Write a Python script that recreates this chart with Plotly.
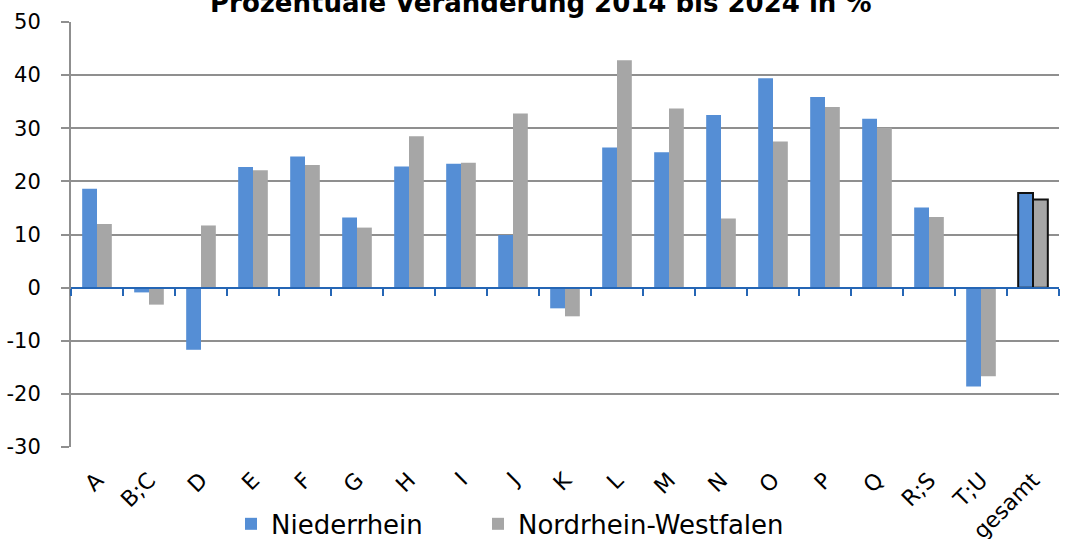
import plotly.graph_objects as go

categories = ["A", "B;C", "D", "E", "F", "G", "H", "I", "J", "K",
              "L", "M", "N", "O", "P", "Q", "R;S", "T;U", "gesamt"]
niederrhein = [18.6, -0.9, -11.7, 22.7, 24.7, 13.2, 22.8, 23.3, 9.9, -3.9,
               26.4, 25.5, 32.5, 39.4, 35.9, 31.8, 15.1, -18.6, 17.8]
nrw = [12.0, -3.2, 11.7, 22.1, 23.1, 11.3, 28.5, 23.5, 32.8, -5.4,
       42.8, 33.7, 13.0, 27.5, 34.0, 30.1, 13.3, -16.7, 16.6]
y_ticks = [-30, -20, -10, 0, 10, 20, 30, 40, 50]
title_text = "Prozentuale Veränderung 2014 bis 2024 in %"

FONT = "DejaVu Sans"
n = len(categories)
# only the total bar gets a black frame
line_w = [0] * (n - 1) + [2]
line_c = ["rgba(0,0,0,0)"] * (n - 1) + ["#111111"]

fig = go.Figure()
fig.add_trace(go.Bar(x=categories, y=niederrhein, name="Niederrhein", legend="legend",
                     marker=dict(color="#558ED5", line=dict(width=line_w, color=line_c))))
fig.add_trace(go.Bar(x=categories, y=nrw, name="Nordrhein-Westfalen", legend="legend2",
                     marker=dict(color="#A6A6A6", line=dict(width=line_w, color=line_c))))
# invisible helper trace so the zero-line axis is drawn
fig.add_trace(go.Scatter(x=[0], y=[0], xaxis="x2", mode="markers",
                         marker=dict(opacity=0), showlegend=False, hoverinfo="skip"))

leg = dict(orientation="h", xref="container", xanchor="left",
           yref="container", y=0.028, yanchor="middle", font=dict(size=26))

fig.update_layout(
    width=1066, height=539,
    margin=dict(l=71, r=7, t=22, b=92, autoexpand=False),
    paper_bgcolor="white", plot_bgcolor="white",
    font=dict(family=FONT, color="#000000"),
    barmode="group", bargap=0.43, bargroupgap=0,
    xaxis=dict(type="category", showline=False, ticks="", tickangle=-45,
               tickfont=dict(size=22), ticklabelstandoff=15, automargin=False, showgrid=False),
    xaxis2=dict(overlaying="x", anchor="free", position=30 / 80, range=[-0.5, n - 0.5],
                showline=True, linecolor="#2566B5", linewidth=2,
                ticks="outside", ticklen=7, tickwidth=2, tickcolor="#2566B5",
                tickvals=[i - 0.5 for i in range(n + 1)], showticklabels=False,
                showgrid=False, zeroline=False),
    yaxis=dict(range=[-30, 50], tickvals=y_ticks, ticktext=[str(v) for v in y_ticks],
               showgrid=True, gridcolor="#8F8F8F", gridwidth=2,
               showline=True, linecolor="#8F8F8F", linewidth=2,
               ticks="outside", ticklen=8, tickwidth=2, tickcolor="#8F8F8F",
               tickfont=dict(size=21), ticklabelstandoff=16, zeroline=False,
               automargin=False),
    legend=dict(leg, x=231 / 1066),
    legend2=dict(leg, x=478 / 1066),
    showlegend=True,
    annotations=[dict(text="<b>" + title_text + "</b>", xref="paper", yref="paper",
                      x=0.475, y=1.045, xanchor="center", yanchor="middle",
                      showarrow=False, font=dict(size=26, family=FONT))],
)

# drop the default page margin so the chart sits at the window's corner
fig.write_html("out.html", config={"displayModeBar": False},
               post_script="document.body.style.margin='0';")
